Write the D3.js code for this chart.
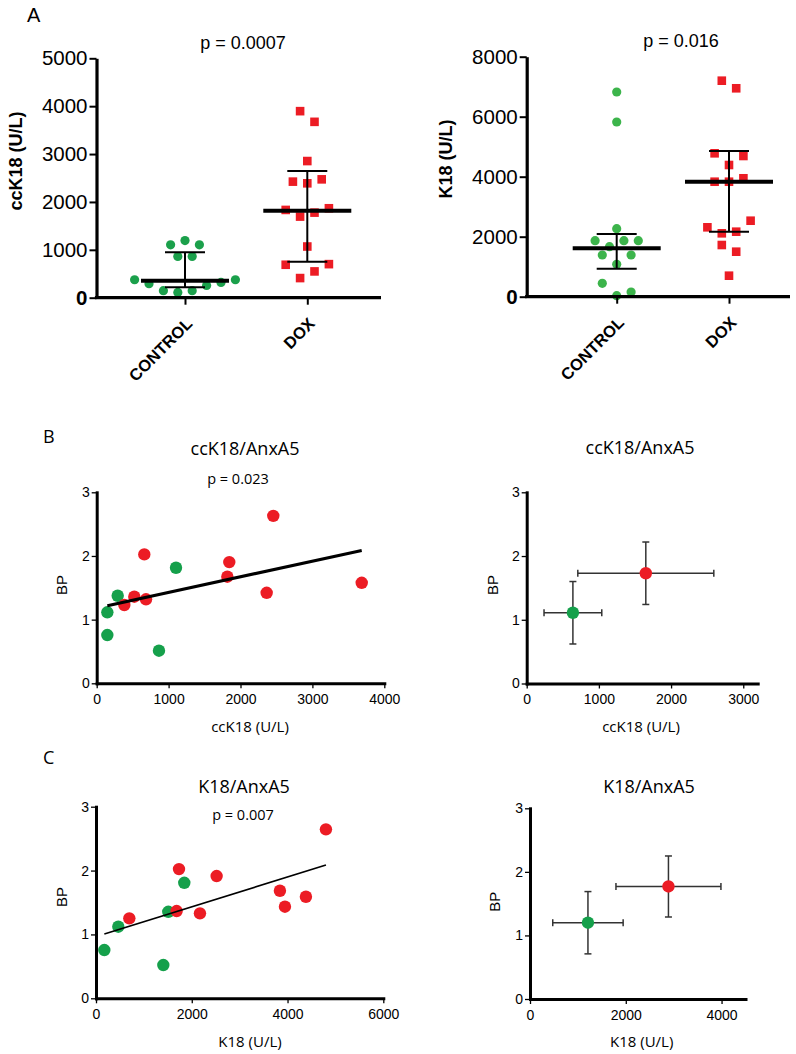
<!DOCTYPE html>
<html><head><meta charset="utf-8">
<script src="https://cdn.jsdelivr.net/npm/d3@7"></script>
<style>body{margin:0;background:#fff}svg{display:block}</style>
</head><body>
<svg id="fig" width="796" height="1054"></svg>
<script>
// ================= DATA =================
const groups = ["CONTROL", "DOX"];

// Panel A (values grouped in the rows in which the scatter stacks them)
const ccK18Control = [[111,146,146,257,292,320,375,375],[860,860],[1194,1104,1104]];
const ccK18Dox = [[410,549,688,701],[1069],[1694,1777,1833,1868],[2389,2424,2472],[2854],[3896,3673]];
const ccK18Median = [355, 1816];
const ccK18Q1 = [217, 752];
const ccK18Q3 = [948, 2645];
const ccK18Ticks = [0,1000,2000,3000,4000,5000];

const k18Control = [[33,447,157],[1080,1390,1390],[1667,1867,1867,1867],[2267],[5823],[6823]];
const k18Dox = [[700],[1723,1500],[2113,2167,2313,2533],[3833,3833,3947],[4390,4780,4690],[7200,6947]];
const k18Median = [1613, 3833];
const k18Q1 = [933, 2167];
const k18Q3 = [2090, 4857];
const k18Ticks = [0,2000,4000,6000,8000];

// Panel B (ccK18 vs BP)
const bCtrlX = [1103, 292, 148, 148, 866];
const bCtrlY = [1.815, 1.375, 1.115, 0.758, 0.512];
const bDoxX = [2456, 662, 1844, 1817, 2364, 3686, 523, 686, 384];
const bDoxY = [2.63, 2.025, 1.904, 1.674, 1.422, 1.579, 1.36, 1.319, 1.229];
const bMeanX = [640, 1650], bSdX = [400, 942];
const bMeanY = [1.11, 1.73], bSdY = [0.49, 0.49];
const bTicksX = [0,1000,2000,3000,4000];
const bTicksX2 = [0,1000,2000,3000];

// Panel C (K18 vs BP)
const cCtrlX = [1844, 1510, 466, 174, 1406];
const cCtrlY = [1.809, 1.355, 1.121, 0.756, 0.521];
const cDoxX = [4802, 1733, 2519, 3841, 4384, 3946, 1684, 2171, 696];
const cDoxY = [2.645, 2.023, 1.914, 1.684, 1.590, 1.434, 1.366, 1.330, 1.252];
const cMeanX = [1210, 2891], cSdX = [735, 1096];
const cMeanY = [1.20, 1.77], cSdY = [0.49, 0.48];
const cTicksX = [0,2000,4000,6000];
const cTicksX2 = [0,2000,4000];
const bpTicks = [0,1,2,3];

// ================= DRAWING =================
const RED = "#ec1c24";
const SANS = "'Liberation Sans', Arial, Helvetica, sans-serif";
const HUM = "'Open Sans', 'Noto Sans', sans-serif";
const svg = d3.select("#fig");

function text(x, y, str, o) {
  const t = svg.append("text").attr("x", x).attr("y", y).text(str)
    .attr("font-family", o.font || SANS).attr("font-size", o.size)
    .attr("font-weight", o.weight || "normal").attr("fill", "#000")
    .attr("text-anchor", o.anchor || "start");
  if (o.rotate) t.attr("x", 0).attr("y", 0).attr("transform", `translate(${x},${y}) rotate(${o.rotate})`);
  return t;
}

function slotOf(i, n) {
  if (n % 2) return i === 0 ? 0 : (i % 2 ? -(i + 1) / 2 : i / 2);
  return (i % 2 ? 1 : -1) * (Math.floor(i / 2) + 0.5);
}

function groupPanel(o) {
  const y = d3.scaleLinear().domain([0, o.max]).range([o.yBot, o.yTop]);
  const x = d3.scalePoint().domain(groups).range(o.cats);
  const g = svg.append("g");
  const pts = [];
  [o.ctrl, o.dox].forEach((rows, gi) => rows.forEach(row => row.forEach((v, i) =>
    pts.push({ gi, v, slot: slotOf(i, row.length) }))));
  g.selectAll("circle.pt").data(pts.filter(d => d.gi === 0)).join("circle")
    .attr("cx", d => x(groups[0]) + d.slot * o.unit).attr("cy", d => y(d.v))
    .attr("r", 4.6).attr("fill", o.green);
  g.selectAll("rect.pt").data(pts.filter(d => d.gi === 1)).join("rect")
    .attr("x", d => x(groups[1]) + d.slot * o.unit - 4.3).attr("y", d => y(d.v) - 4.3)
    .attr("width", 8.6).attr("height", 8.6).attr("fill", RED);
  // median + IQR
  groups.forEach((c, i) => {
    const cx = x(c);
    g.append("line").attr("x1", cx).attr("x2", cx).attr("y1", y(o.q1[i])).attr("y2", y(o.q3[i]))
      .attr("stroke", "#000").attr("stroke-width", 2);
    [o.q1[i], o.q3[i]].forEach(q => g.append("line").attr("x1", cx - 20).attr("x2", cx + 20)
      .attr("y1", y(q)).attr("y2", y(q)).attr("stroke", "#000").attr("stroke-width", 2));
    g.append("line").attr("x1", cx - 44).attr("x2", cx + 44).attr("y1", y(o.med[i])).attr("y2", y(o.med[i]))
      .attr("stroke", "#000").attr("stroke-width", 4);
  });
  // y axis
  const ya = svg.append("g").attr("transform", `translate(${o.ax},0)`)
    .call(d3.axisLeft(y).tickValues(o.ticks).tickSize(7).tickPadding(2).tickSizeOuter(0).tickFormat(d3.format("d")));
  ya.attr("font-family", SANS).attr("font-size", 20.5);
  ya.select(".domain").attr("stroke-width", 3.2);
  ya.selectAll(".tick line").attr("stroke-width", 2);
  ya.selectAll(".tick text").attr("font-weight", d => d === 0 ? "bold" : "normal");
  // x axis
  svg.append("line").attr("x1", o.ax - 1.6).attr("x2", o.xEnd).attr("y1", o.yBot).attr("y2", o.yBot)
    .attr("stroke", "#000").attr("stroke-width", 3.2);
  const xa = svg.append("g").attr("transform", `translate(0,${o.yBot})`)
    .call(d3.axisBottom(x).tickSize(7).tickSizeOuter(0));
  xa.select(".domain").remove();
  xa.selectAll(".tick line").attr("stroke-width", 2);
  xa.attr("font-family", SANS).attr("font-size", 16.5).attr("font-weight", "bold");
  xa.selectAll(".tick text").attr("x", 0).attr("y", 0).attr("dy", 0)
    .attr("text-anchor", "end").attr("transform", "translate(8,27) rotate(-45)");
  text(o.ylabX, o.ylabY, o.ylabel, { size: 18, weight: "bold", anchor: "middle", rotate: -90 });
  text(o.pX, o.pY, o.p, { size: 18, anchor: "middle" });
}

function bpAxes(x, y, o) {
  const ya = svg.append("g").attr("transform", `translate(${x.range()[0]},0)`)
    .call(d3.axisLeft(y).tickValues(bpTicks).tickSize(5).tickPadding(2).tickSizeOuter(0).tickFormat(d3.format("d")));
  ya.attr("font-family", SANS).attr("font-size", 14);
  ya.select(".domain").attr("stroke-width", 3).attr("stroke-linecap", "square");
  ya.selectAll(".tick line").attr("stroke-width", 1.3);
  const xa = svg.append("g").attr("transform", `translate(0,${y.range()[0]})`)
    .call(d3.axisBottom(x).tickValues(o.xticks).tickSize(5).tickPadding(6).tickSizeOuter(0).tickFormat(d3.format("d")));
  xa.attr("font-family", SANS).attr("font-size", 14);
  xa.select(".domain").attr("stroke-width", 3).attr("stroke-linecap", "square");
  xa.selectAll(".tick line").attr("stroke-width", 1.3);
  text(o.bpX, o.bpY, "BP", { size: 15, anchor: "middle", rotate: -90 });
  text(o.xlabX, o.xlabY, o.xlabel, { font: HUM, size: 15, anchor: "middle" });
  text(o.titleX, o.titleY, o.title, { font: HUM, size: 18, anchor: "middle" });
}

const GREEN2 = "#15a04b";

function scatterPanel(o) {
  const x = d3.scaleLinear().domain(o.xdom).range(o.xr);
  const y = d3.scaleLinear().domain([0, 3]).range(o.yr);
  const all = o.cx.map((v, i) => ({ x: v, y: o.cy[i], c: GREEN2 }))
    .concat(o.dx.map((v, i) => ({ x: v, y: o.dy[i], c: RED })));
  const mx = d3.mean(all, d => d.x), my = d3.mean(all, d => d.y);
  const slope = d3.sum(all, d => (d.x - mx) * (d.y - my)) / d3.sum(all, d => (d.x - mx) ** 2);
  const icpt = my - slope * mx;
  const [x0, x1] = d3.extent(all, d => d.x);
  svg.selectAll(null).data(all).join("circle")
    .attr("cx", d => x(d.x)).attr("cy", d => y(d.y)).attr("r", 6.2).attr("fill", d => d.c);
  svg.append("line").attr("x1", x(x0)).attr("x2", x(x1))
    .attr("y1", y(icpt + slope * x0)).attr("y2", y(icpt + slope * x1))
    .attr("stroke", "#000").attr("stroke-width", o.lw);
  bpAxes(x, y, o);
  text(o.pX, o.pY, o.p, { font: HUM, size: 14.5, anchor: "middle" });
}

function summaryPanel(o) {
  const x = d3.scaleLinear().domain(o.xdom).range(o.xr);
  const y = d3.scaleLinear().domain([0, 3]).range(o.yr);
  const cols = [GREEN2, RED];
  const st = { stroke: "#333", w: 1.5 };
  o.mx.forEach((m, i) => {
    const cx = x(m), cy = y(o.my[i]);
    const xl = x(m - o.sx[i]), xr = x(m + o.sx[i]);
    const yt = y(o.my[i] + o.sy[i]), yb = y(o.my[i] - o.sy[i]);
    const seg = (a, b, c, d) => svg.append("line").attr("x1", a).attr("y1", b).attr("x2", c).attr("y2", d)
      .attr("stroke", st.stroke).attr("stroke-width", st.w);
    seg(xl, cy, xr, cy); seg(xl, cy - 3.5, xl, cy + 3.5); seg(xr, cy - 3.5, xr, cy + 3.5);
    seg(cx, yt, cx, yb); seg(cx - 3.5, yt, cx + 3.5, yt); seg(cx - 3.5, yb, cx + 3.5, yb);
    svg.append("circle").attr("cx", cx).attr("cy", cy).attr("r", 6.2).attr("fill", cols[i]);
  });
  bpAxes(x, y, o);
}

// ---- Panel A ----
text(27, 22, "A", { size: 20 });
groupPanel({ ax: 96.5, xEnd: 381, yTop: 58.3, yBot: 297.7, max: 5000, ticks: ccK18Ticks,
  cats: [185, 307.3], unit: 14.4, ctrl: ccK18Control, dox: ccK18Dox, med: ccK18Median,
  q1: ccK18Q1, q3: ccK18Q3, green: "#1ba04b", ylabel: "ccK18 (U/L)", ylabX: 21.5, ylabY: 161,
  p: "p = 0.0007", pX: 243, pY: 49 });
groupPanel({ ax: 526.7, xEnd: 790, yTop: 56.7, yBot: 296.7, max: 8000, ticks: k18Ticks,
  cats: [616.7, 729], unit: 14.4, ctrl: k18Control, dox: k18Dox, med: k18Median,
  q1: k18Q1, q3: k18Q3, green: "#3cb44b", ylabel: "K18 (U/L)", ylabX: 452, ylabY: 159,
  p: "p = 0.016", pX: 681, pY: 47 });

// ---- Panel B ----
text(43, 443, "B", { font: HUM, size: 18 });
scatterPanel({ xdom: [0, 4000], xr: [96.7, 384.3], yr: [683.3, 492.3], xticks: bTicksX,
  cx: bCtrlX, cy: bCtrlY, dx: bDoxX, dy: bDoxY, lw: 3,
  bpX: 67, bpY: 585, xlabel: "ccK18 (U/L)", xlabX: 250, xlabY: 731.5,
  title: "ccK18/AnxA5", titleX: 245, titleY: 455, p: "p = 0.023", pX: 238, pY: 484 });
summaryPanel({ xdom: [0, 3200], xr: [526.7, 757.7], yr: [683.5, 492.3], xticks: bTicksX2,
  mx: bMeanX, sx: bSdX, my: bMeanY, sy: bSdY,
  bpX: 498, bpY: 585, xlabel: "ccK18 (U/L)", xlabX: 641, xlabY: 731.5,
  title: "ccK18/AnxA5", titleX: 640, titleY: 454 });

// ---- Panel C ----
text(43, 764, "C", { font: HUM, size: 18 });
scatterPanel({ xdom: [0, 6000], xr: [96, 383.3], yr: [998.3, 806.7], xticks: cTicksX,
  cx: cCtrlX, cy: cCtrlY, dx: cDoxX, dy: cDoxY, lw: 1.6,
  bpX: 67, bpY: 897, xlabel: "K18 (U/L)", xlabX: 250, xlabY: 1046.5,
  title: "K18/AnxA5", titleX: 244, titleY: 793, p: "p = 0.007", pX: 243, pY: 820 });
summaryPanel({ xdom: [0, 4500], xr: [530, 745.5], yr: [999, 808.3], xticks: cTicksX2,
  mx: cMeanX, sx: cSdX, my: cMeanY, sy: cSdY,
  bpX: 500, bpY: 901.7, xlabel: "K18 (U/L)", xlabX: 641.7, xlabY: 1046.5,
  title: "K18/AnxA5", titleX: 649, titleY: 793 });
</script>
</body></html>
